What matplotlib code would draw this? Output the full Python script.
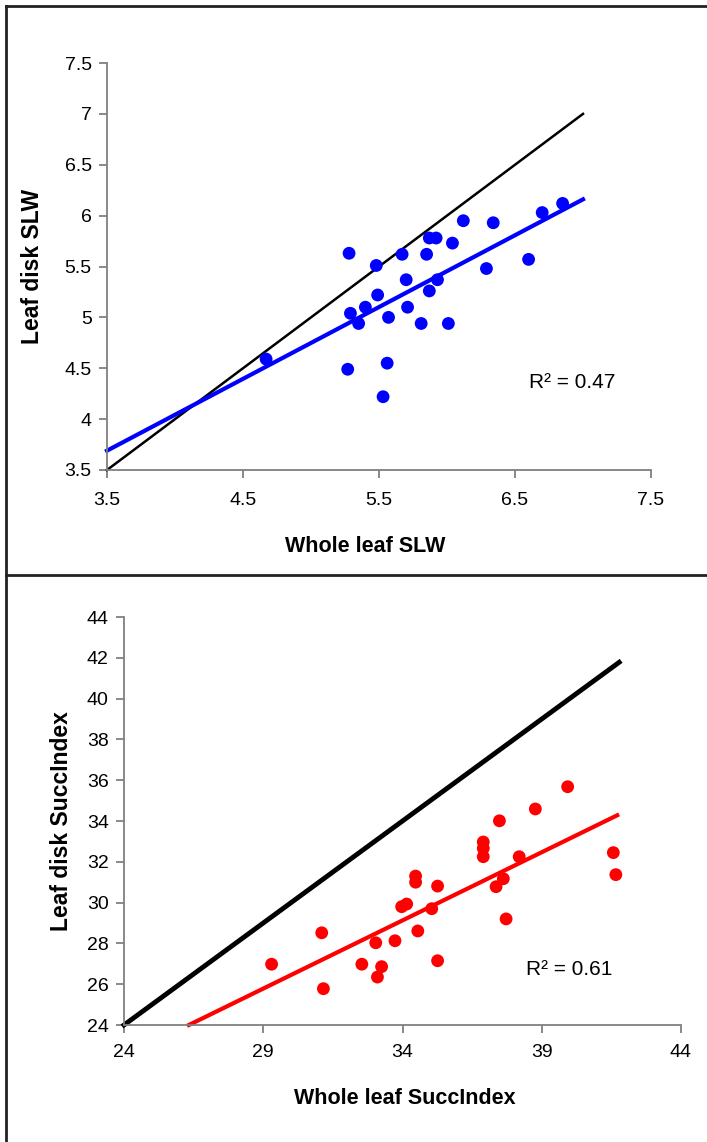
import matplotlib
matplotlib.use("Agg")
import matplotlib.pyplot as plt
from matplotlib.lines import Line2D

plt.rcParams['font.family'] = ['Liberation Sans', 'DejaVu Sans']

# top panel: SLW
slw_whole = [4.67, 5.28, 5.27, 5.29, 5.35, 5.40, 5.48, 5.49, 5.57, 5.56, 5.53, 5.67, 5.70, 5.71,
             5.81, 5.85, 5.87, 5.92, 5.87, 5.93, 6.01, 6.04, 6.12, 6.34, 6.29, 6.60, 6.70, 6.85]
slw_disk = [4.59, 5.63, 4.49, 5.04, 4.94, 5.10, 5.51, 5.22, 5.00, 4.55, 4.22, 5.62, 5.37, 5.10,
            4.94, 5.62, 5.78, 5.78, 5.26, 5.37, 4.94, 5.73, 5.95, 5.93, 5.48, 5.57, 6.03, 6.12]
slw_fit_x = [3.5, 7.0]
slw_fit_y = [3.69, 6.16]
slw_one_to_one = [3.5, 7.0]
slw_ticks = [3.5, 4.5, 5.5, 6.5, 7.5]
slw_yticks = [3.5, 4, 4.5, 5, 5.5, 6, 6.5, 7, 7.5]

# bottom panel: SuccIndex
succ_whole = [29.30, 31.10, 31.16, 32.54, 33.04, 33.25, 33.10, 33.73, 33.97, 34.15, 34.47, 34.47,
              34.55, 35.05, 35.26, 35.26, 36.90, 36.90, 36.90, 37.48, 37.36, 37.62, 37.72, 38.19,
              38.77, 39.93, 41.57, 41.66]
succ_disk = [26.98, 28.52, 25.78, 26.98, 28.03, 26.86, 26.35, 28.13, 29.80, 29.93, 31.30, 31.00,
             28.61, 29.70, 27.15, 30.81, 32.97, 32.66, 32.25, 34.01, 30.78, 31.17, 29.20, 32.25,
             34.59, 35.68, 32.45, 31.37]
succ_fit_x = [26.33, 41.71]
succ_fit_y = [24.0, 34.28]
succ_one_to_one = [24.0, 41.78]
succ_xticks = [24, 29, 34, 39, 44]
succ_yticks = [24, 26, 28, 30, 32, 34, 36, 38, 40, 42, 44]

W, H = 707, 1142
fig = plt.figure(figsize=(W / 100, H / 100), dpi=100)

def style(ax):
    for s in ['top', 'right']:
        ax.spines[s].set_visible(False)
    for s in ['left', 'bottom']:
        ax.spines[s].set_color('#808080')
        ax.spines[s].set_linewidth(1.3)
    ax.tick_params(direction='out', length=6, width=1.3, color='#808080',
                   labelsize=14, pad=5)
    ax.tick_params(axis='x', pad=10)
    ax.set_facecolor('none')

# top panel
ax1 = fig.add_axes([107 / W, 1 - 470 / H, 544 / W, 407 / H])
ax1.plot(slw_one_to_one, slw_one_to_one, color='black', lw=1.8, clip_on=False, zorder=2)
ax1.plot(slw_fit_x, slw_fit_y, color='#0000ff', lw=3, clip_on=False, zorder=2)
ax1.scatter(slw_whole, slw_disk, s=85, color='#0000ff', edgecolors='none', zorder=3)
ax1.set_xlim(3.5, 7.5)
ax1.set_ylim(3.5, 7.5)
ax1.set_xticks(slw_ticks)
ax1.set_xticklabels([str(t) for t in slw_ticks])
ax1.set_yticks(slw_yticks)
ax1.set_yticklabels(['3.5', '4', '4.5', '5', '5.5', '6', '6.5', '7', '7.5'])
style(ax1)
ax1.set_xlabel('Whole leaf SLW', fontsize=15.5, fontweight='bold')
ax1.set_ylabel('Leaf disk SLW', fontsize=16.5, fontweight='bold')
ax1.xaxis.set_label_coords(0.474, -0.163)
ax1.yaxis.set_label_coords(-0.116, 0.5)
ax1.text(6.6, 4.36, 'R² = 0.47', fontsize=15, va='center', ha='left')

# bottom panel
ax2 = fig.add_axes([124 / W, 1 - 1025 / H, 557 / W, 408 / H])
ax2.plot(succ_one_to_one, succ_one_to_one, color='black', lw=3.5, clip_on=False, zorder=2)
ax2.plot(succ_fit_x, succ_fit_y, color='#ff0000', lw=3, clip_on=False, zorder=2)
ax2.scatter(succ_whole, succ_disk, s=85, color='#ff0000', edgecolors='none', zorder=3)
ax2.set_xlim(24, 44)
ax2.set_ylim(24, 44)
ax2.set_xticks(succ_xticks)
ax2.set_yticks(succ_yticks)
style(ax2)
ax2.tick_params(axis='x', pad=8)
ax2.set_xlabel('Whole leaf SuccIndex', fontsize=15.5, fontweight='bold')
ax2.set_ylabel('Leaf disk SuccIndex', fontsize=16.5, fontweight='bold')
ax2.xaxis.set_label_coords(0.505, -0.155)
ax2.yaxis.set_label_coords(-0.091, 0.5)
ax2.text(38.45, 26.7, 'R² = 0.61', fontsize=15, va='center', ha='left')

# panel frame lines
frame = dict(color='#222222', lw=2, transform=fig.transFigure)
fig.add_artist(Line2D([6 / W, 6 / W], [0, 1 - 6 / H], **frame))
fig.add_artist(Line2D([6 / W, 1], [1 - 6 / H, 1 - 6 / H], **frame))
fig.add_artist(Line2D([6 / W, 1], [1 - 575 / H, 1 - 575 / H], **frame))

fig.savefig('out.png', dpi=100)
